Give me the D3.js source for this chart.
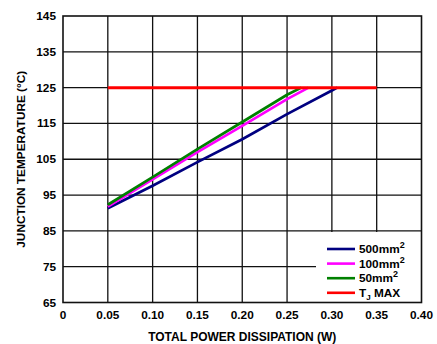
<!DOCTYPE html>
<html>
<head>
<meta charset="utf-8">
<script src="https://cdn.jsdelivr.net/npm/d3@7"></script>
<style>
  body { margin: 0; background: #fff; }
  text { font-family: "Liberation Sans", Arial, sans-serif; font-weight: bold; }
</style>
</head>
<body>
<div id="chart"></div>
<script>
// Dados
var x_ticks      =   [0, 0.05, 0.10, 0.15, 0.20, 0.25, 0.30, 0.35, 0.40];
var x_labels     =   ['0', '0.05', '0.10', '0.15', '0.20', '0.25', '0.30', '0.35', '0.40'];
var y_ticks      =   [65, 75, 85, 95, 105, 115, 125, 135, 145];

var p_500        =   [0.05, 0.10, 0.15, 0.20, 0.25, 0.30, 0.306];
var t_500        =   [91.3, 97.6, 104.2, 110.6, 117.6, 124.2, 125];
var p_100        =   [0.05, 0.10, 0.15, 0.20, 0.25, 0.274];
var t_100        =   [91.8, 99.4, 107.0, 114.3, 121.8, 125];
var p_50         =   [0.05, 0.10, 0.15, 0.20, 0.25, 0.266];
var t_50         =   [92.3, 100.0, 107.8, 115.4, 123.0, 125];
var p_tj         =   [0.05, 0.35];
var t_tj         =   [125, 125];

var series = [
    { name: '500mm', sup: '2', p: p_500, t: t_500, color: '#000080' },
    { name: '100mm', sup: '2', p: p_100, t: t_100, color: '#ff00ff' },
    { name: '50mm',  sup: '2', p: p_50,  t: t_50,  color: '#008000' },
    { name: 'TJ',    sup: '',  p: p_tj,  t: t_tj,  color: '#ff0000' }
];

// Criar SVG
var chart_width  = 437;
var chart_height = 344;
var m_left = 63, m_right = 421.5, m_top = 16, m_bottom = 302.5;

var svg = d3.select('#chart')
    .append('svg')
    .attr('width', chart_width)
    .attr('height', chart_height);

var x_scale = d3.scaleLinear().domain([0, 0.40]).range([m_left, m_right]);
var y_scale = d3.scaleLinear().domain([65, 145]).range([m_bottom, m_top]);

// Grade
svg.append('g')
    .selectAll('line')
    .data(x_ticks.slice(1, -1))
    .enter()
    .append('line')
    .attr('x1', function(d){ return x_scale(d); })
    .attr('x2', function(d){ return x_scale(d); })
    .attr('y1', m_top)
    .attr('y2', m_bottom)
    .attr('stroke', '#111')
    .attr('stroke-width', 1.3);

svg.append('g')
    .selectAll('line')
    .data(y_ticks.slice(1, -1))
    .enter()
    .append('line')
    .attr('x1', m_left)
    .attr('x2', m_right)
    .attr('y1', function(d){ return y_scale(d); })
    .attr('y2', function(d){ return y_scale(d); })
    .attr('stroke', '#111')
    .attr('stroke-width', 1.3);

// Caixa da legenda (cobre a grade)
var leg_x = 316, leg_y = 232;
svg.append('rect')
    .attr('x', leg_x)
    .attr('y', leg_y)
    .attr('width', m_right - leg_x)
    .attr('height', m_bottom - leg_y)
    .attr('fill', '#fff');

// Linhas
var line = d3.line()
    .x(function(d){ return x_scale(d[0]); })
    .y(function(d){ return y_scale(d[1]); });

series.forEach(function(s){
    svg.append('path')
        .datum(d3.zip(s.p, s.t))
        .attr('d', line)
        .attr('fill', 'none')
        .attr('stroke', s.color)
        .attr('stroke-width', s.name === 'TJ' ? 3 : 2.7);
});

// Borda
svg.append('rect')
    .attr('x', m_left)
    .attr('y', m_top)
    .attr('width', m_right - m_left)
    .attr('height', m_bottom - m_top)
    .attr('fill', 'none')
    .attr('stroke', '#111')
    .attr('stroke-width', 1.6);

// Eixos (rotulos)
svg.append('g')
    .selectAll('text')
    .data(x_ticks)
    .enter()
    .append('text')
    .text(function(d, i){ return x_labels[i]; })
    .attr('x', function(d){ return x_scale(d); })
    .attr('y', 319)
    .attr('font-size', 11.8)
    .attr('text-anchor', 'middle');

svg.append('g')
    .selectAll('text')
    .data(y_ticks)
    .enter()
    .append('text')
    .text(function(d){ return d; })
    .attr('x', 56)
    .attr('y', function(d){ return y_scale(d) + 4; })
    .attr('font-size', 11.8)
    .attr('text-anchor', 'end');

svg.append('text')
    .text('TOTAL POWER DISSIPATION (W)')
    .attr('x', (m_left + m_right) / 2)
    .attr('y', 341)
    .attr('font-size', 12)
    .attr('text-anchor', 'middle');

svg.append('text')
    .text('JUNCTION TEMPERATURE (°C)')
    .attr('transform', 'translate(25,' + ((m_top + m_bottom) / 2) + ') rotate(-90)')
    .attr('font-size', 11.8)
    .attr('text-anchor', 'middle');

// Legenda
var leg = svg.append('g')
    .selectAll('g')
    .data(series)
    .enter()
    .append('g')
    .attr('transform', function(d, i){ return 'translate(327,' + (249 + i * 14.6) + ')'; });

leg.append('line')
    .attr('x1', 0)
    .attr('x2', 28)
    .attr('stroke', function(d){ return d.color; })
    .attr('stroke-width', 2.6);

var lt = leg.append('text')
    .attr('x', 32)
    .attr('y', 4)
    .attr('font-size', 11.8);

lt.each(function(d){
    var t = d3.select(this);
    if (d.name === 'TJ') {
        t.append('tspan').text('T');
        t.append('tspan').text('J').attr('dy', 3).attr('font-size', 8);
        t.append('tspan').text(' MAX').attr('dy', -3);
    } else {
        t.append('tspan').text(d.name);
        t.append('tspan').text(d.sup).attr('dy', -5).attr('font-size', 9);
    }
});
</script>
</body>
</html>
